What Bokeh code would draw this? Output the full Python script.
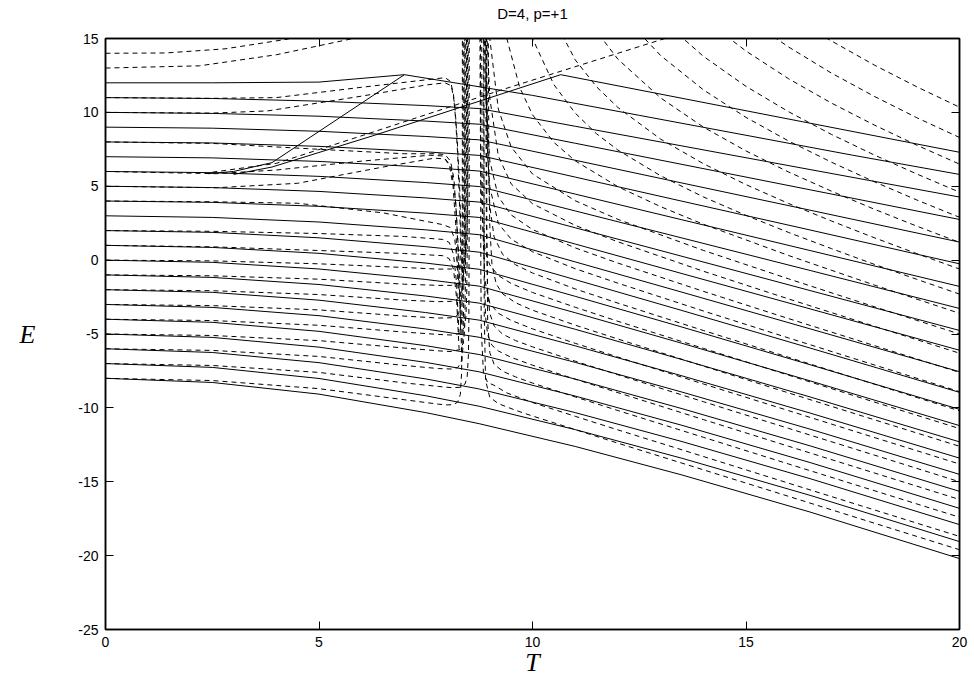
from bokeh.plotting import figure
from bokeh.models import Range1d, LinearAxis, FixedTicker
from bokeh.embed import file_html
from bokeh.resources import INLINE

# ---------------- data ----------------
TITLE = "D=4, p=+1"
X_TICKS = [0, 5, 10, 15, 20]
Y_TICKS = [-25, -20, -15, -10, -5, 0, 5, 10, 15]
Y_TICK_TEXT = ["-25", "-20", "-15", "-10", "-5", "0", "5", "10", "15"]

# solid family: E at fixed T nodes, one entry per level (E0 = 11 ... -8)
T_SOLID = [0, 2.5, 5, 7.5, 8.75, 11, 13.5, 16.5, 20]
E_T0 = [11, 10, 9, 8, 7, 6, 5, 4, 3, 2, 1, 0, -1, -2, -3, -4, -5, -6, -7, -8]
E_T2_5 = [10.94, 9.93, 8.93, 7.93, 6.92, 5.92, 4.91, 3.91, 2.89, 1.88, 0.86, -0.15, -1.17, -2.18, -3.20, -4.21, -5.23, -6.25, -7.26, -8.28]
E_T5 = [10.76, 9.74, 8.72, 7.70, 6.68, 5.67, 4.65, 3.64, 2.58, 1.51, 0.46, -0.60, -1.65, -2.71, -3.76, -4.82, -5.89, -6.94, -8.01, -9.07]
E_T7_5 = [10.46, 9.41, 8.37, 7.33, 6.29, 5.25, 4.21, 3.18, 2.05, 0.91, -0.20, -1.31, -2.43, -3.55, -4.66, -5.79, -6.92, -8.04, -9.18, -10.32]
E_T8_75 = [10.26, 9.20, 8.14, 7.09, 6.03, 4.98, 3.93, 2.89, 1.72, 0.54, -0.62, -1.76, -2.91, -4.06, -5.22, -6.39, -7.56, -8.72, -9.89, -11.07]
E_T11 = [9.06, 7.91, 6.76, 5.62, 4.47, 3.33, 2.19, 1.09, -0.12, -1.32, -2.45, -3.56, -4.68, -5.80, -6.92, -8.05, -9.20, -10.32, -11.47, -12.61]
E_T13_5 = [7.73, 6.48, 5.22, 3.99, 2.73, 1.50, 0.26, -0.91, -2.17, -3.41, -4.53, -5.63, -6.73, -7.83, -8.93, -10.05, -11.18, -12.28, -13.41, -14.54]
E_T16_5 = [6.13, 4.76, 3.38, 2.04, 0.65, -0.70, -2.06, -3.30, -4.65, -5.95, -7.08, -8.17, -9.26, -10.35, -11.44, -12.57, -13.70, -14.79, -15.92, -17.05]
E_T20 = [4.27, 2.75, 1.22, -0.25, -1.78, -3.27, -4.76, -6.1, -7.55, -8.95, -10.1, -11.2, -12.3, -13.4, -14.5, -15.65, -16.8, -17.9, -19.05, -20.2]

# top solid level (E0 = 12) and the two rising solid branches
SOLID_TOP = [(0, 12.0), (2.5, 12.0), (5, 12.05), (7.0, 12.55), (10, 11.15), (12.5, 9.8), (15, 8.45), (17.5, 7.1), (20, 5.8)]
SOLID_R1 = [(2.4, 5.85), (3.0, 6.0), (3.9, 6.6), (7.0, 12.55)]
SOLID_R2 = [(3.0, 5.8), (3.9, 6.3), (6.3, 8.45), (10.66, 12.55), (15, 10.11), (20, 7.3)]

# dashed curves, right of the resonance (wide branches)
DR_B = [(16.5, 15.71), (16.9, 15.0), (18, 13.21), (19, 11.73), (20, 10.35)]
DR_C = [(15.3, 15.81), (16, 14.42), (17, 12.66), (18, 11.09), (19, 9.64), (20, 8.30)]
DR_D = [(14.2, 15.92), (15, 14.15), (16, 12.27), (17, 10.63), (18, 9.15), (19, 7.78), (20, 6.50)]
DR_E = [(13.1, 16.09), (14, 13.80), (15, 11.76), (16, 10.04), (17, 8.51), (18, 7.12), (19, 5.83), (20, 4.60)]
DR_F = [(12.2, 16.31), (13, 13.85), (14, 11.53), (15, 9.66), (16, 8.06), (17, 6.63), (18, 5.31), (19, 4.07), (20, 2.90)]
DR_G = [(11.3, 16.24), (12, 13.60), (13, 10.98), (14, 9.01), (15, 7.39), (16, 5.96), (17, 4.67), (18, 3.45), (19, 2.30), (20, 1.20)]
DR_H = [(10.4, 16.86), (11, 13.56), (11.5, 11.73), (12, 10.33), (13, 8.19), (14, 6.53), (15, 5.11), (16, 3.83), (17, 2.65), (18, 1.52), (19, 0.44), (20, -0.60)]
DR_I = [(9.8, 16.95), (10, 15.0), (10.5, 11.88), (11, 9.95), (11.5, 8.55), (12, 7.45), (13, 5.71), (14, 4.28), (15, 3.03), (16, 1.87), (17, 0.78), (18, -0.28), (19, -1.30), (20, -2.30)]
DR_I2 = [(9.3, 16.84), (9.4, 15.0), (9.7, 11.69), (10, 9.84), (10.5, 7.97), (11, 6.72), (12, 4.97), (13, 3.62), (14, 2.43), (16, 0.31), (18, -1.68), (20, -3.60)]
DR_J = [(8.95, 17.6), (9.0, 14.99), (9.2, 10.22), (9.5, 7.66), (10, 5.83), (11, 4.02), (12, 2.76), (14, 0.66), (16, -1.27), (18, -3.15), (20, -5.0)]

# dashed curves, right of the resonance (narrow branches)
DR_K1 = [(8.92, 16.04), (9.0, 10.97), (9.2, 7.04), (9.5, 5.16), (10, 3.82), (11, 2.35), (12, 1.24), (14, -0.75), (16, -2.63), (18, -4.47), (20, -6.3)]
DR_K2 = [(8.86, 17.3), (8.9, 11.31), (9.0, 6.72), (9.2, 4.29), (9.5, 3.06), (10, 2.07), (11, 0.83), (12, -0.20), (14, -2.11), (16, -3.96), (18, -5.78), (20, -7.6)]
DR_K3 = [(8.89, 16.05), (8.95, 6.99), (9.0, 4.95), (9.2, 2.48), (9.5, 1.42), (10, 0.57), (11, -0.58), (12, -1.56), (14, -3.44), (16, -5.27), (18, -7.09), (20, -8.9)]
DR_K4 = [(8.924, 16.3), (8.93, 13.06), (8.95, 7.71), (9.0, 3.66), (9.1, 1.57), (9.3, 0.39), (9.6, -0.31), (10, -0.87), (11, -1.95), (12, -2.91), (14, -4.76), (16, -6.58), (18, -8.39), (20, -10.2)]
DR_K5 = [(8.767, 16.3), (8.78, 8.68), (8.8, 4.65), (8.85, 1.61), (8.9, 0.56), (9.0, -0.33), (9.2, -1.04), (9.5, -1.58), (10, -2.19), (11, -3.19), (12, -4.14), (14, -5.97), (16, -7.79), (18, -9.60), (20, -11.4)]
DR_K6 = [(8.963, 16.5), (8.98, 5.63), (9.0, 2.28), (9.05, -0.27), (9.15, -1.61), (9.3, -2.28), (9.6, -2.88), (10, -3.39), (11, -4.40), (12, -5.34), (14, -7.17), (16, -8.99), (18, -10.80), (20, -12.6)]
DR_K7 = [(8.81, 16.25), (8.82, 6.24), (8.83, 2.9), (8.88, -1.31), (9.0, -2.92), (9.2, -3.60), (9.5, -4.08), (10, -4.65), (11, -5.63), (12, -6.56), (14, -8.38), (16, -10.19), (18, -12.0), (20, -13.8)]
DR_K8 = [(8.907, 16.4), (8.91, 9.97), (8.92, 2.46), (8.95, -2.07), (9.0, -3.61), (9.1, -4.45), (9.3, -5.01), (9.6, -5.44), (10, -5.87), (11, -6.84), (12, -7.76), (14, -9.58), (16, -11.39), (18, -13.19), (20, -15.0)]
DR_K9 = [(8.8555, 15.6), (8.86, 5.82), (8.87, -0.18), (8.9, -3.82), (8.95, -5.06), (9.05, -5.76), (9.2, -6.15), (9.5, -6.58), (10, -7.11), (11, -8.06), (12, -8.97), (14, -10.79), (16, -12.60), (18, -14.40), (20, -16.2)]
DR_K10 = [(8.924, 17.6), (8.926, 9.2), (8.93, 2.56), (8.95, -4.13), (9.0, -6.26), (9.1, -7.04), (9.3, -7.52), (9.6, -7.90), (10, -8.32), (11, -9.26), (12, -10.18), (14, -11.99), (16, -13.80), (18, -15.60), (20, -17.4)]
DR_K11 = [(8.7832, 16.4), (8.785, 7.4), (8.79, -0.62), (8.8, -4.63), (8.85, -7.60), (8.95, -8.29), (9.1, -8.47), (9.4, -8.99), (10, -9.64), (11, -10.57), (12, -11.49), (14, -13.29), (16, -15.10), (18, -16.90), (20, -18.7)]
DR_K12 = [(8.8623, 16.0), (8.865, 2.41), (8.87, -3.59), (8.9, -8.12), (9.0, -9.28), (9.2, -9.71), (9.6, -10.16), (10, -10.55), (12, -12.39), (14, -14.19), (16, -15.99), (18, -17.80), (20, -19.6)]

# dashed curves, left of the resonance
DL_R2 = [(2.5, 5.95), (4.0, 6.55), (6.3, 8.7), (9.25, 11.5), (13.1, 15.0), (13.6, 15.45)]
DU1 = [(0, 14.0), (1.4, 14.02), (2.8, 14.3), (4.25, 14.95), (4.6, 15.2)]
DU2 = [(0, 13.0), (2.2, 13.15), (4.0, 13.9), (5.8, 15.0), (6.2, 15.3)]
DU3 = [(0, 11.0), (2.5, 10.95), (4.0, 11.0), (6.0, 11.7), (7.5, 12.2), (7.95, 12.35), (8.08, 12.1), (8.15, 11.2), (8.2, 9.5), (8.25, 7.0), (8.3, 3.0), (8.33, -1.0)]
DU4 = [(0, 10.0), (2.5, 9.95), (3.8, 10.1), (6.0, 11.1), (7.5, 11.85), (7.95, 12.0), (8.1, 11.8), (8.18, 10.5), (8.24, 8.0), (8.3, 4.5), (8.36, -2.0)]
DU5 = [(0, 8.0), (2.5, 7.9), (5.0, 7.5), (7.0, 7.2), (7.7, 7.2), (7.95, 7.15), (8.08, 6.7), (8.16, 5.5), (8.22, 3.0), (8.28, -1.0), (8.32, -5.0)]
DU6 = [(0, 6.0), (2.6, 5.85), (4.0, 6.1), (6.0, 6.7), (7.6, 7.1), (7.9, 7.05), (8.05, 6.5), (8.14, 5.0), (8.2, 2.5), (8.26, -2.0)]
DU7 = [(0, 5.0), (2.6, 4.9), (4.5, 5.2), (6.5, 6.3), (7.7, 6.9), (7.95, 6.85), (8.1, 6.2), (8.2, 4.0), (8.28, 0.0), (8.34, -4.5)]
DP1 = [(0, 4.0), (2.5, 3.95), (4.5, 3.85), (6.5, 3.2), (7.9, 2.4), (8.08, 2.2), (8.18, 1.4), (8.25, -0.5), (8.3, -3.0), (8.35, -7.0)]
DP2 = [(0, 2.0), (2.5, 1.95), (5.0, 1.8), (7.0, 1.6), (7.9, 1.4), (8.05, 1.2), (8.15, 0.4), (8.22, -1.5), (8.28, -5.0)]
DP3 = [(0, 1.0), (2.5, 0.9), (5.0, 0.65), (7.0, 0.45), (7.9, 0.3), (8.05, 0.1), (8.15, -0.6), (8.22, -2.5), (8.28, -6.0)]
DM0 = [(0, 0), (2.5, -0.05), (5, -0.25), (7, -0.5), (7.8, -0.61), (8.1, -0.60), (8.3, -0.45), (8.4, -0.07), (8.45, 0.72), (8.48, 3.12), (8.49, 7.12), (8.4955, 16.9)]
DM1 = [(0, -1), (2.5, -1.06), (5, -1.29), (7, -1.63), (7.8, -1.71), (8.1, -1.71), (8.3, -1.52), (8.38, -1.10), (8.42, -0.24), (8.44, 1.51), (8.45, 5.01), (8.455, 12.0), (8.4563, 16.9)]
DM2 = [(0, -2), (2.5, -2.07), (5, -2.33), (7, -2.71), (7.8, -2.81), (8.1, -2.79), (8.25, -2.64), (8.34, -2.21), (8.38, -1.34), (8.40, 0.41), (8.41, 3.91), (8.415, 10.9), (8.4165, 16.9)]
DM3 = [(0, -3), (2.5, -3.08), (5, -3.37), (7, -3.79), (7.8, -3.92), (8.1, -3.90), (8.22, -3.78), (8.3, -3.43), (8.34, -2.69), (8.36, -1.19), (8.37, 1.81), (8.375, 7.81), (8.3774, 18.8)]
DM4 = [(0, -4), (2.5, -4.09), (5, -4.41), (7, -4.87), (7.8, -5.03), (8.1, -5.07), (8.3, -4.96), (8.4, -4.58), (8.44, -3.84), (8.46, -2.34), (8.47, 0.66), (8.475, 6.66), (8.4775, 18.7)]
DM5 = [(0, -5), (2.5, -5.10), (5, -5.45), (7, -5.95), (7.8, -6.14), (8.1, -6.19), (8.3, -6.05), (8.38, -5.60), (8.41, -4.78), (8.43, -1.45), (8.435, 3.55), (8.437, 10.2), (8.4378, 17.4)]
DM6 = [(0, -6), (2.5, -6.11), (5, -6.52), (7, -7.13), (7.8, -7.34), (8.1, -7.37), (8.25, -7.27), (8.33, -6.92), (8.37, -5.97), (8.39, -2.64), (8.395, 2.36), (8.397, 9.1), (8.3982, 20.2)]
DM7 = [(0, -7), (2.5, -7.13), (5, -7.6), (7, -8.31), (7.8, -8.55), (8.1, -8.63), (8.3, -8.61), (8.42, -8.38), (8.47, -7.90), (8.5, -6.40), (8.51, -3.90), (8.515, 1.10), (8.517, 7.8), (8.5182, 18.9)]
DM8 = [(0, -8), (2.5, -8.15), (5, -8.7), (7, -9.45), (7.8, -9.75), (8.0, -9.8), (8.15, -9.78), (8.25, -9.6), (8.31, -9.1), (8.34, -7.6), (8.35, -5.1), (8.355, -0.1), (8.357, 6.6), (8.3582, 17.7)]

DASHED = [DR_B, DR_C, DR_D, DR_E, DR_F, DR_G, DR_H, DR_I, DR_I2, DR_J,
          DR_K1, DR_K2, DR_K3, DR_K4, DR_K5, DR_K6, DR_K7, DR_K8, DR_K9, DR_K10, DR_K11, DR_K12,
          DL_R2, DU1, DU2, DU3, DU4, DU5, DU6, DU7, DP1, DP2, DP3,
          DM0, DM1, DM2, DM3, DM4, DM5, DM6, DM7, DM8]

# ---------------- figure ----------------
p = figure(width=974, height=684, output_backend="svg", toolbar_location=None,
           x_range=Range1d(0, 20), y_range=Range1d(-25, 15),
           min_border_left=105, min_border_right=15, min_border_top=38, min_border_bottom=55)
p.title.visible = False
p.grid.visible = False
p.background_fill_color = "white"
p.border_fill_color = "white"
p.outline_line_color = "black"
p.outline_line_width = 1.5

columns = [E_T0, E_T2_5, E_T5, E_T7_5, E_T8_75, E_T11, E_T13_5, E_T16_5, E_T20]
solid_xs = [list(T_SOLID) for _ in E_T0]
solid_ys = [[col[k] for col in columns] for k in range(len(E_T0))]
for seg in (SOLID_TOP, SOLID_R1, SOLID_R2):
    solid_xs.append([t for t, e in seg])
    solid_ys.append([e for t, e in seg])
p.multi_line(solid_xs, solid_ys, line_color="black", line_width=1)

dash_xs = [[t for t, e in seg] for seg in DASHED]
dash_ys = [[e for t, e in seg] for seg in DASHED]
p.multi_line(dash_xs, dash_ys, line_color="black", line_width=1, line_dash="5 4")

# axes (mirrored ticks on top and right, without labels)
top_axis = LinearAxis()
p.add_layout(top_axis, "above")
p.add_layout(LinearAxis(), "right")
for ax in p.xaxis:
    ax.ticker = FixedTicker(ticks=X_TICKS)
for ax in p.yaxis:
    ax.ticker = FixedTicker(ticks=Y_TICKS)
    ax.major_label_overrides = {v: s for v, s in zip(Y_TICKS, Y_TICK_TEXT)}
for ax in p.axis:
    ax.major_tick_in = 8
    ax.major_tick_out = 0
    ax.minor_tick_line_color = None
    ax.major_tick_line_color = "black"
    ax.major_tick_line_width = 1
    ax.axis_line_color = "black"
    ax.axis_line_width = 1.5
    ax.major_label_text_font = "Liberation Sans"
    ax.major_label_text_font_size = "14px"
    ax.major_label_text_color = "black"
    ax.major_label_standoff = 7
for ax in (top_axis, p.right[0]):
    ax.major_label_text_font_size = "1px"
    ax.major_label_text_color = None
    ax.major_label_standoff = 0

# title drawn as the label of the top axis
top_axis.axis_label = TITLE
top_axis.axis_label_text_font = "Liberation Sans"
top_axis.axis_label_text_font_style = "normal"
top_axis.axis_label_text_font_size = "15px"
top_axis.axis_label_text_color = "black"
top_axis.axis_label_standoff = 17

xb = p.below[0]
xb.axis_label = "T"
xb.axis_label_text_font = "Liberation Serif"
xb.axis_label_text_font_style = "italic"
xb.axis_label_text_font_size = "26px"
xb.axis_label_text_color = "black"
xb.axis_label_standoff = -2

yl = p.left[0]
yl.axis_label = "E"
yl.axis_label_text_font = "Liberation Serif"
yl.axis_label_text_font_style = "italic"
yl.axis_label_text_font_size = "26px"
yl.axis_label_text_color = "black"
yl.axis_label_standoff = 40
try:
    yl.axis_label_orientation = "horizontal"
except Exception:
    pass

open("out.html", "w").write(file_html(p, INLINE))
